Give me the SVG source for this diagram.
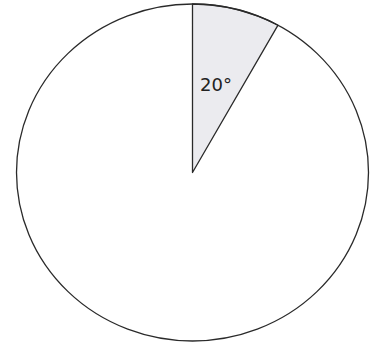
<svg xmlns="http://www.w3.org/2000/svg" width="373" height="342" viewBox="0 0 373 342">
<style>
.outline{fill:none;stroke:#2a2a2a;stroke-width:1.3}
.sector{fill:#ebebef;stroke:#2a2a2a;stroke-width:1.3;stroke-linejoin:round}
.lbl{font-family:"DejaVu Sans",sans-serif;font-size:18px;fill:#222}
</style>
<rect width="373" height="342" fill="#fff"/>
<g id="sector">
<path class="sector" d="M192.5,172.5 L192.5,4 A176,168.5 0 0 1 278,25.2 Z"/>
<text class="lbl" x="200" y="91">20°</text>
</g>
<g id="circle">
<ellipse class="outline" cx="192.5" cy="172.5" rx="176" ry="168.5"/>
</g>
</svg>
